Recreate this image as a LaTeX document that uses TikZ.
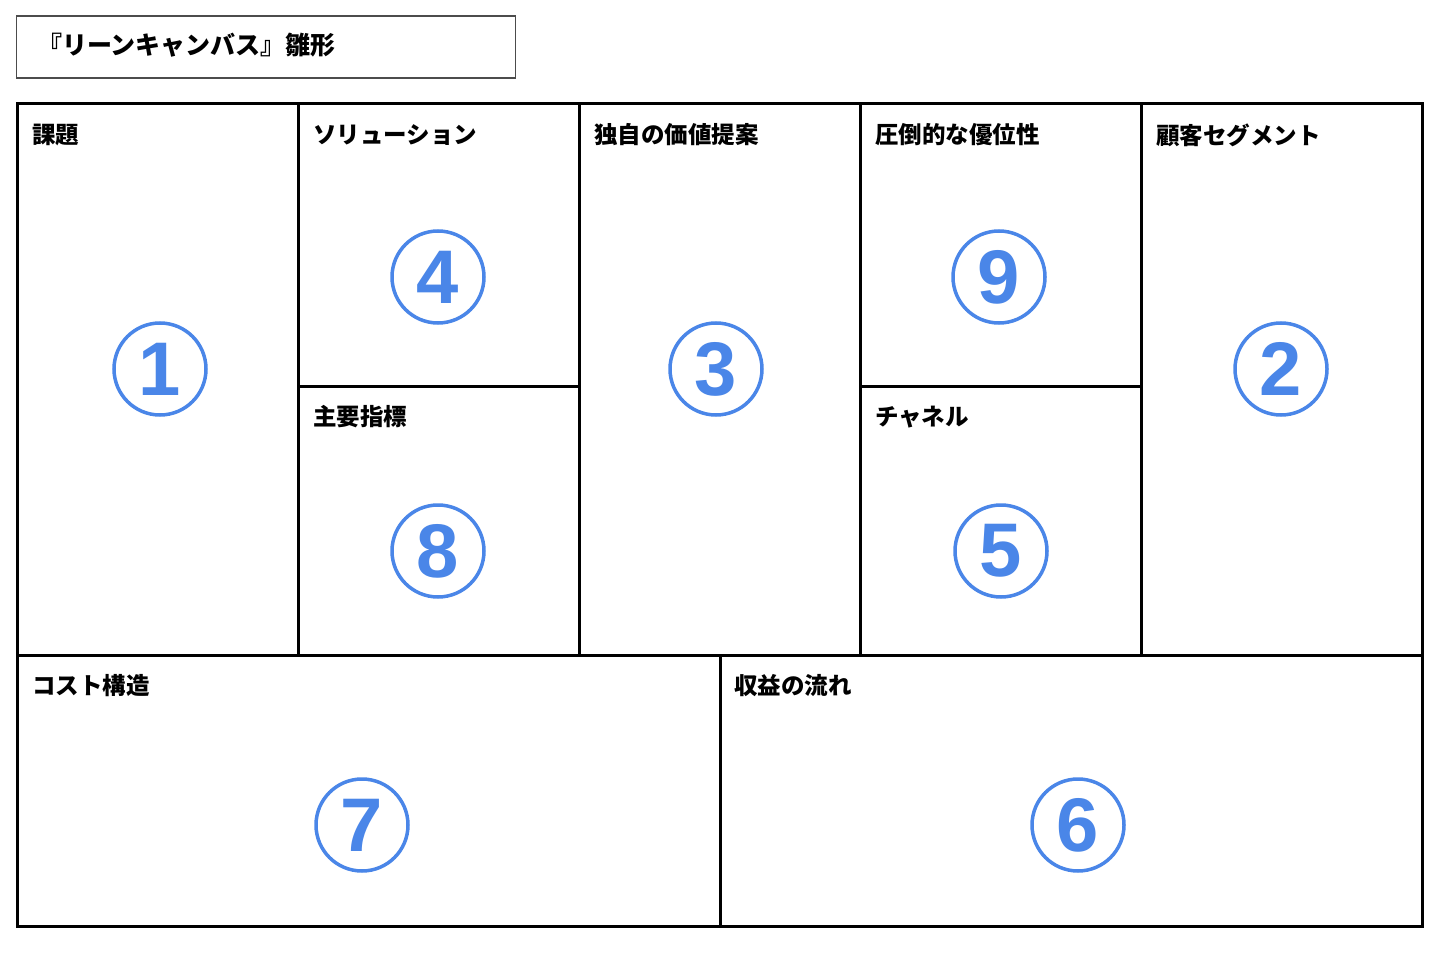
\documentclass[tikz,border=0pt]{standalone}
\usepackage{fontspec}
\newfontfamily\jp{Noto Sans CJK JP}
\newfontfamily\numfont{Liberation Sans}
\definecolor{numblue}{HTML}{4A86E8}
\begin{document}
\begin{tikzpicture}[x=1pt,y=-1pt,
  grid/.style={line width=3pt,black},
  lbl/.style={anchor=west,inner sep=0pt,font=\jp\bfseries\fontsize{23.5}{23.5}\selectfont},
  num/.style={circle,draw=numblue,line width=3.5pt,minimum size=92pt,inner sep=0pt,text=numblue,font=\numfont\bfseries\fontsize{76}{76}\selectfont}]
\useasboundingbox (0,0) rectangle (1440,960);
\fill[white] (0,0) rectangle (1440,960);
% title
\node[draw=black!70,line width=1.2pt,minimum width=499pt,minimum height=62pt,anchor=north west,inner sep=0pt] (title) at (15.5,15.5) {};
\node[lbl,font=\jp\bfseries\fontsize{25}{25}\selectfont] (ttext) at (37,45) {『リーンキャンバス』雛形};
% grid
\coordinate (tl) at (17,104);
\coordinate (br) at (1422,926);
\draw[grid] (tl) rectangle (br);
\draw[grid] (298,104) -- (298,655);
\draw[grid] (579,104) -- (579,655);
\draw[grid] (860,104) -- (860,655);
\draw[grid] (1141,104) -- (1141,655);
\draw[grid] (17,655) -- (1422,655);
\draw[grid] (298,386) -- (579,386);
\draw[grid] (860,386) -- (1141,386);
\draw[grid] (720,655) -- (720,926);
% labels
\node[lbl] (l1) at (32,135) {課題};
\node[lbl] (l4) at (313,135) {ソリューション};
\node[lbl] (l3) at (594,135) {独自の価値提案};
\node[lbl] (l9) at (875,135) {圧倒的な優位性};
\node[lbl] (l2) at (1156,135) {顧客セグメント};
\node[lbl] (l8) at (313,417) {主要指標};
\node[lbl] (l5) at (875,417) {チャネル};
\node[lbl] (l7) at (32,686) {コスト構造};
\node[lbl] (l6) at (734,686) {収益の流れ};
% numbers
\node[num] (n1) at (160,369) {1};
\node[num] (n4) at (438,277) {4};
\node[num] (n8) at (438,551) {8};
\node[num] (n3) at (716,369) {3};
\node[num] (n9) at (999,277) {9};
\node[num] (n5) at (1001,551) {5};
\node[num] (n2) at (1281,369) {2};
\node[num] (n7) at (362,825) {7};
\node[num] (n6) at (1078,825) {6};
\end{tikzpicture}
\end{document}
